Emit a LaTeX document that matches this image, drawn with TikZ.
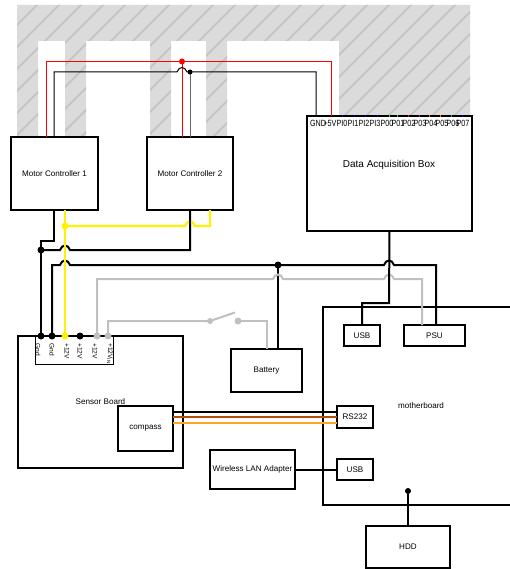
\documentclass[tikz,border=0pt]{standalone}
\usepackage{fontspec}
\setmainfont{Liberation Sans}
\definecolor{hatchbg}{HTML}{DBDBDB}
\definecolor{hatchln}{HTML}{C6C6C6}
\definecolor{wiregray}{HTML}{C0C0C0}
\definecolor{wirebrown}{HTML}{B84A0A}
\definecolor{wireorange}{HTML}{FFA51E}
\tikzset{
  unit/.style={draw=black, line width=2pt, inner sep=0pt, outer sep=0pt, anchor=north west, font=\fontsize{8.1}{10}\selectfont},
  strip/.style={unit, line width=0.8pt},
  t/.style={inner sep=0pt, font=\fontsize{8.1}{10}\selectfont},
  port/.style={t, font=\fontsize{9}{10}\selectfont, xscale=0.8},
  pin/.style={t, font=\fontsize{6.6}{8}\selectfont, rotate=-90, anchor=west},
  power/.style={draw=black, line width=2pt},
  signal/.style={draw=black, line width=1pt},
  supply/.style={draw=red, line width=1pt},
  feed/.style={draw=yellow, line width=2.4pt},
  mains/.style={draw=wiregray, line width=2pt},
  hop/.style={to path={.. controls +(2,-6) and +(-2,-6) .. (\tikztotarget)}},
  dot/.style={circle, inner sep=0pt, minimum size=#1, fill=black},
  dot/.default=7pt,
}
\begin{document}
\begin{tikzpicture}[x=1pt, y=-1pt]
  \path[use as bounding box, clip] (0,0) rectangle (510,569);

  % hatched background
  \begin{scope}
    \clip (17,5) -- (470,5) -- (470,116) -- (339,116) -- (339,41) -- (227,41) -- (227,137) -- (206,137) -- (206,41) -- (171,41) -- (171,137) -- (150,137) -- (150,41) -- (86,41) -- (86,137) -- (65,137) -- (65,41) -- (38,41) -- (38,137) -- (17,137) -- cycle;
    \fill[hatchbg] (0,0) rectangle (510,140);
    \foreach \h in {-120,-98,...,480}
      \draw[hatchln, line width=1.8pt] (\h,140) -- ({\h+140},0);
  \end{scope}

  \node[unit, minimum width=87pt, minimum height=73pt] (mcone) at (11,137) {Motor Controller 1};
  \node[unit, minimum width=86pt, minimum height=73pt] (mctwo) at (147,137) {Motor Controller 2};
  \node[unit, minimum width=165pt, minimum height=115pt] (daq) at (307,116) {};
  \node[t, font=\fontsize{10}{12}\selectfont] (daqlabel) at (389,165) {Data Acquisition Box};
  \node[unit, minimum width=165pt, minimum height=132pt] (sensor) at (18,336) {Sensor Board};
  \node[strip, minimum width=78pt, minimum height=28pt] (header) at (35,336) {};
  \node[unit, minimum width=55pt, minimum height=45pt] (compass) at (118,406) {compass};
  \node[unit, minimum width=71pt, minimum height=43pt] (battery) at (231,349) {Battery};
  \node[unit, minimum width=196pt, minimum height=198pt] (mobo) at (323,307) {motherboard};
  \node[unit, minimum width=36pt, minimum height=21pt] (usbtop) at (344,325) {USB};
  \node[unit, minimum width=61pt, minimum height=21pt] (psu) at (404,325) {PSU};
  \node[unit, minimum width=36pt, minimum height=22pt] (rs) at (337,406) {RS232};
  \node[unit, minimum width=36pt, minimum height=21pt] (usbwifi) at (337,459) {USB};
  \node[unit, minimum width=85pt, minimum height=39pt] (wlan) at (210,450) {Wireless LAN Adapter};
  \node[unit, minimum width=84pt, minimum height=42pt] (hdd) at (366,526) {HDD};

  % box ports
  \foreach \x/\lab in {318/GND,330/+5V,342/PI0,353/PI1,364/PI2,375/PI3,387/P00,398/P01,409/P02,420/P03,431/P04,442/P05,453/P06,463/P07}
    \node[port] (p\lab) at (\x,123) {\lab};
  \foreach \x/\col in {342/blue,354/blue,365/blue,377/blue,389/green,397/green,408/magenta,419/magenta,429/orange,440/orange,451/cyan,462/blue}
    \draw[\col, line width=1pt] (\x,115) -- (\x,117);
  \foreach \x/\lab/\n in {38/Gnd/a,52/Gnd/b,67/+12V/c,80/+12V/d,95/+12V/e,110/+12V\textsubscript{IN}/f}
    \node[pin] (pin\n) at (\x,343) {\lab};

  \coordinate (mconepos) at (46,137);
  \coordinate (mconeneg) at (54,137);
  \coordinate (mctwopos) at (182,137);
  \coordinate (mctwoneg) at (190,137);
  \coordinate (daqneg) at (316,116);
  \coordinate (daqpos) at (331,116);
  \coordinate (redjoin) at (182,61.5);
  \coordinate (blackjoin) at (190,72);

  \draw[supply] (mconepos) |- (redjoin) -| (daqpos);
  \draw[supply] (redjoin) -- (mctwopos);
  \node[dot=6pt, fill=red] (reddot) at (redjoin) {};
  \draw[signal] (mconeneg) |- (177,72) to[hop] ++(10,0) -- (blackjoin) -| (daqneg);
  \draw[signal, draw=black!60] (blackjoin) -- (mctwoneg);
  \node[dot=5pt] (blackdot) at (blackjoin) {};

  \coordinate (mconegnd) at (54,210);
  \coordinate (mcone12) at (65,210);
  \coordinate (mctwognd) at (190,210);
  \coordinate (mctwo12) at (210,210);
  \coordinate (pina) at (41,336);
  \coordinate (pinb) at (52,336);
  \coordinate (pinc) at (65,336);
  \coordinate (pind) at (80,336);
  \coordinate (pine) at (97,336);
  \coordinate (pinf) at (108,336);
  \coordinate (gndjoin) at (41,250);
  \coordinate (yellowjoin) at (65,226);
  \coordinate (batjoin) at (278,265);

  \draw[power] (mconegnd) |- (41,241) -- (pina);
  \draw[power] (gndjoin) -- (60,250) to[hop] ++(10,0) -| (mctwognd);
  \draw[power] (pinb) |- (60,265) to[hop] ++(10,0) -- (384,265) to[hop] ++(10,0) -| (436,325);
  \draw[power] (batjoin) -- (278,349);
  \draw[feed] (mcone12) -- (pinc);
  \draw[feed] (yellowjoin) -- (185,226) to[hop] ++(10,0) -| (mctwo12);
  \draw[power] (190,216) -- (190,236);
  \draw[mains] (pine) |- (273,279) to[hop] ++(10,0) -- (384,279) to[hop] ++(10,0) -| (422,325);

  % switch
  \coordinate (swleft) at (210,321);
  \coordinate (swright) at (238,321);
  \draw[mains] (pinf) |- (swleft) -- (235,312.5);
  \draw[mains] (swright) -| (267,349);
  \node[dot=6pt, fill=wiregray] (swa) at (swleft) {};
  \node[dot=7pt, fill=wiregray] (swb) at (swright) {};

  \foreach \c/\col in {pina/black,pinb/black,pinc/yellow,pind/black,pine/wiregray,pinf/wiregray,gndjoin/black,yellowjoin/yellow,batjoin/black}
    \node[dot, fill=\col] (d\c) at (\c) {};

  \draw[power] (daq.south) -- (389,303) -| (usbtop.north);
  \draw[power] (173,412) -- (337,412);
  \draw[draw=wirebrown, line width=2pt] (173,417) -- (337,417);
  \draw[draw=wireorange, line width=2pt] (173,423) -- (337,423);
  \draw[power] (wlan.east) -- (usbwifi.west);
  \node[dot=6pt] (hddjoin) at (408,491) {};
  \draw[power] (hddjoin) -- (hdd.north);
\end{tikzpicture}
\end{document}
